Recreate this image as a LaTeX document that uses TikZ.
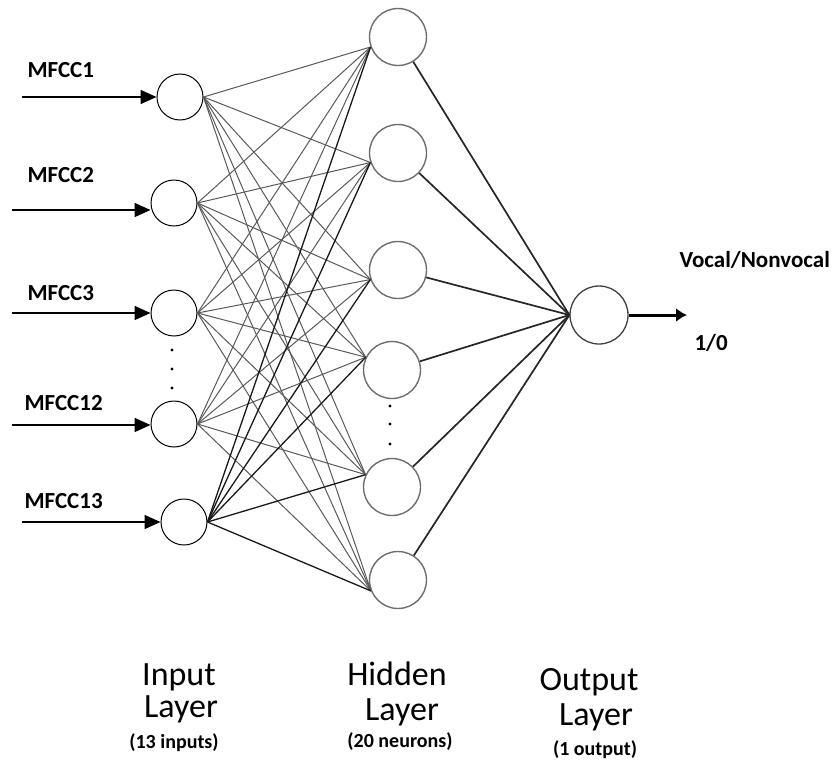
\documentclass[tikz,border=0pt]{standalone}
\usepackage{fontspec}
\setmainfont{Carlito}
\usetikzlibrary{arrows.meta}
\definecolor{ngray}{HTML}{6E6E6E}

\tikzset{
  innode/.style={circle, draw=black, line width=1pt, minimum size=46pt, inner sep=0pt},
  hidnode/.style={circle, draw=ngray, line width=1.4pt, minimum size=57pt, inner sep=0pt},
  outnode/.style={circle, draw=black!75, line width=1.3pt, minimum size=58pt, inner sep=0pt},
  wire/.style={draw=black!65, line width=1pt},
  hwire/.style={draw=black!85, line width=1.7pt},
  feedin/.style={line width=1.6pt, -{Triangle[length=16pt,width=14pt]}},
  feat/.style={font=\fontsize{23}{27}\selectfont\bfseries, anchor=base west},
  laytitle/.style={font=\fontsize{34}{40}\selectfont, anchor=base},
  laynote/.style={font=\fontsize{20}{24}\selectfont\bfseries, anchor=base},
}

\begin{document}
\begin{tikzpicture}[x=1pt, y=-1pt]
\useasboundingbox (0,0) rectangle (835,763);
% input layer
\node[innode] (i1) at (180,97) {};
\node[innode] (i2) at (174,203) {};
\node[innode] (i3) at (174,313) {};
\node[innode] (i12) at (174,424) {};
\node[innode] (i13) at (184,522) {};
\fill (172,350) circle (1.6pt) (172,369) circle (1.6pt) (172,388) circle (1.6pt);
% hidden layer
\node[hidnode] (h1) at (398,37) {};
\node[hidnode] (h2) at (398,153) {};
\node[hidnode] (h3) at (398,270) {};
\node[hidnode] (h4) at (392,370) {};
\node[hidnode] (h5) at (392,487) {};
\node[hidnode] (h6) at (398,580) {};
\fill (390,406) circle (1.6pt) (390,424) circle (1.6pt) (390,444) circle (1.6pt);
% output layer
\node[outnode] (o) at (599,315) {};

% weights
\foreach \i in {1,2,3,12}
  \foreach \h/\a in {1/200,2/199,3/199,4/154,5/155,6/202}
    \draw[wire] (i\i.east) -- (h\h.\a);
\foreach \h/\a in {1/200,2/199,3/199,4/154,5/155,6/202}
  \draw[wire, draw=black!90, line width=1.3pt] (i13.east) -- (h\h.\a);
\foreach \h in {1,...,6}
  \draw[hwire] (h\h) -- (o.west);

% features in
\coordinate (s1) at (22,97);
\coordinate (s2) at (12,210);
\coordinate (s3) at (12,313);
\coordinate (s12) at (12,425);
\coordinate (s13) at (22,522);
\foreach \i in {1,2,3,12,13}
  \draw[feedin] (s\i) -- (s\i -| i\i.west);
\node[feat] (f1) at (24,77) {MFCC1};
\node[feat] (f2) at (24,182) {MFCC2};
\node[feat] (f3) at (24,300) {MFCC3};
\node[feat] (f12) at (21,410) {MFCC12};
\node[feat] (f13) at (21,508) {MFCC13};

% result out
\coordinate (res) at (687,315);
\draw[line width=3pt, -{Latex[length=11pt,width=14pt]}] (o.east) -- (res);
\node[feat] (cls) at (676,267) {Vocal/Nonvocal};
\node[feat] (val) at (691,350) {1/0};

% layer captions
\node[laytitle] (inA) at (179,685) {Input};
\node[laytitle] (inB) at (181,717) {Layer};
\node[laynote] (inC) at (174,748) {(13 inputs)};
\node[laytitle] (hdA) at (397,685) {Hidden};
\node[laytitle] (hdB) at (402,720) {Layer};
\node[laynote] (hdC) at (400,747) {(20 neurons)};
\node[laytitle] (otA) at (589,690) {Output};
\node[laytitle] (otB) at (596,725) {Layer};
\node[laynote] (otC) at (595,755) {(1 output)};
\end{tikzpicture}
\end{document}
